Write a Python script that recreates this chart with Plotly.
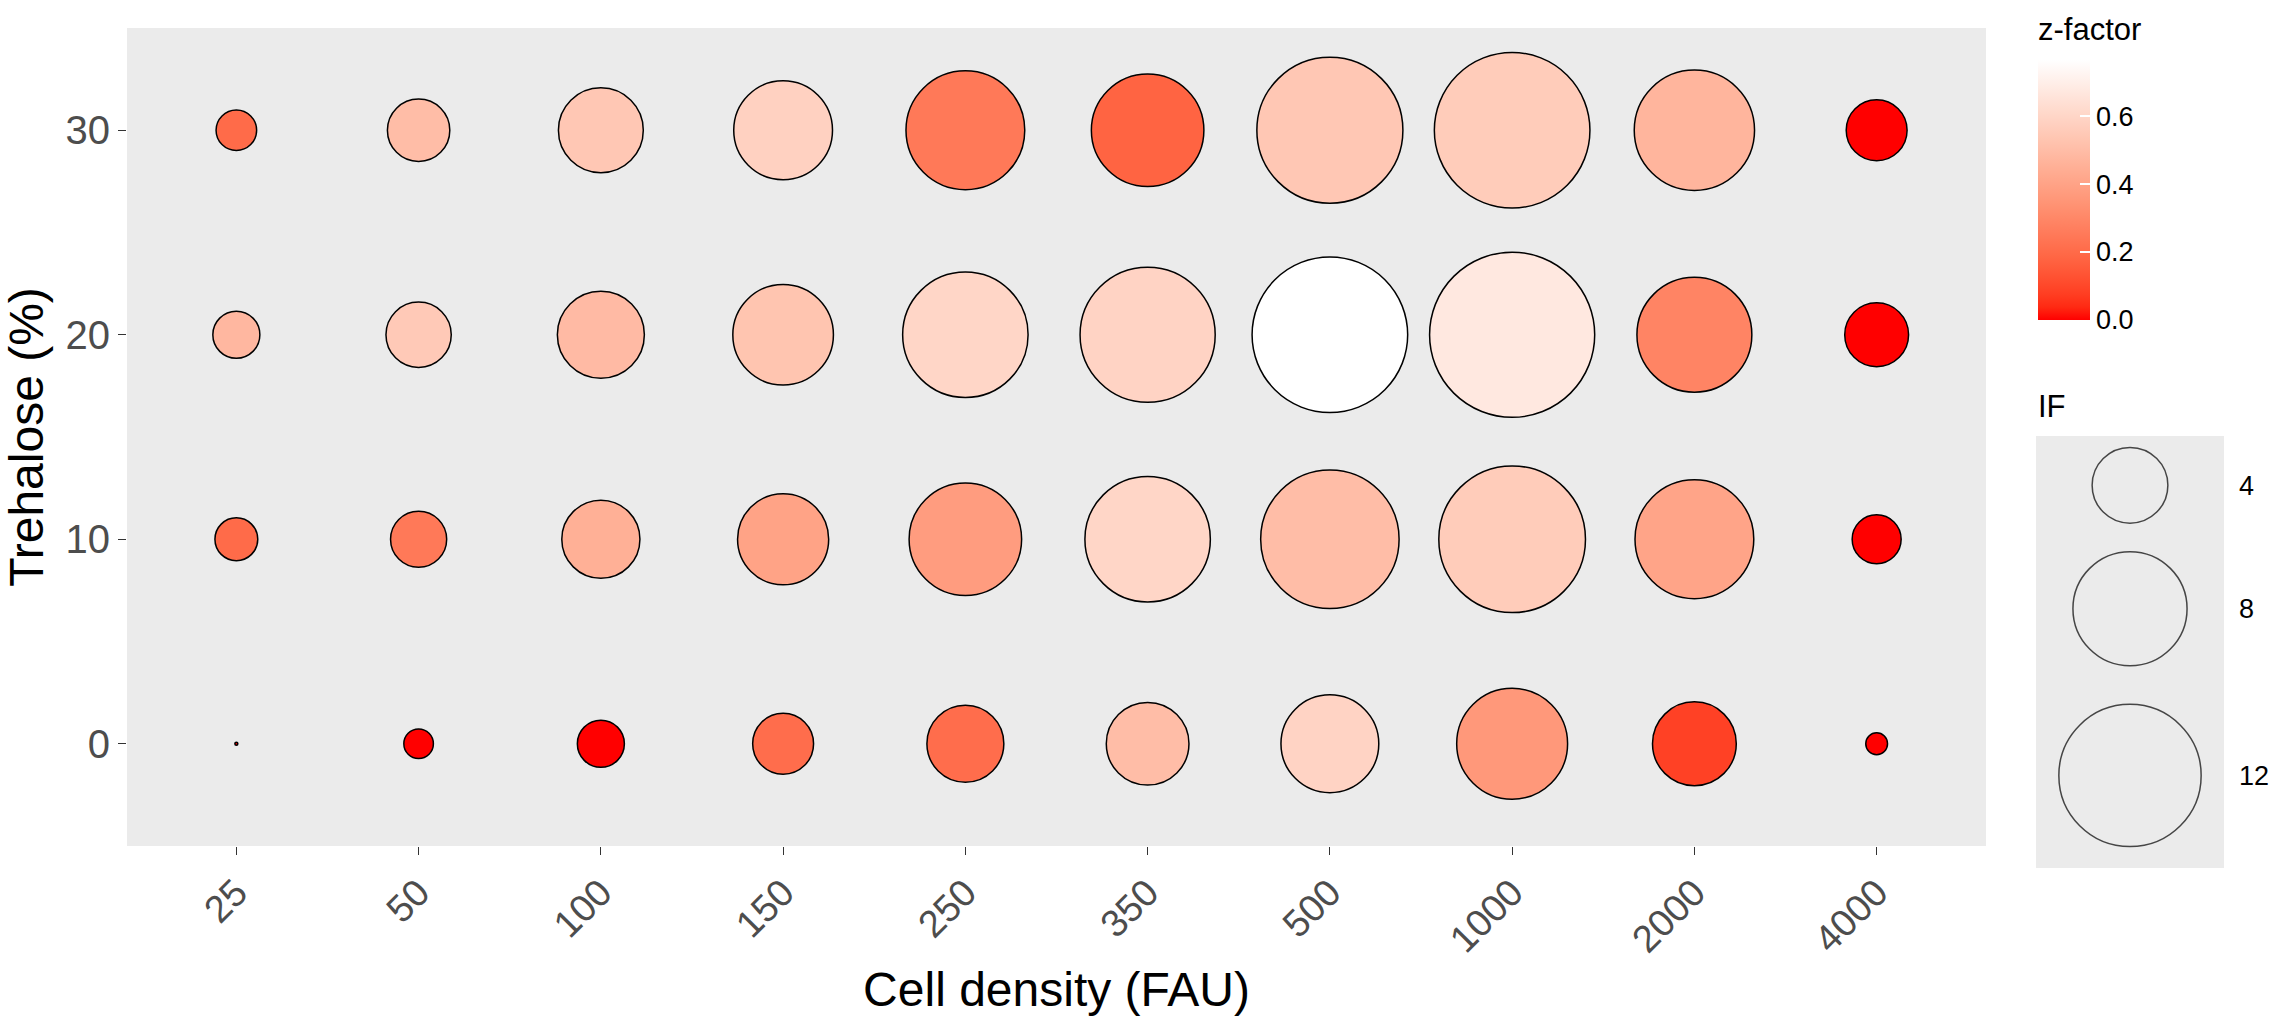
import numpy as np
import plotly.graph_objects as go

#%% data
density = ['25', '50', '100', '150', '250', '350', '500', '1000', '2000', '4000']
trehalose = [0, 10, 20, 30]

# z-factor (fill colour), one list per trehalose level
zf_0 = [0.0, 0.0, 0.0, 0.21, 0.21, 0.50, 0.59, 0.36, 0.085, 0.0]
zf_10 = [0.20, 0.25, 0.45, 0.40, 0.375, 0.60, 0.50, 0.56, 0.405, 0.0]
zf_20 = [0.48, 0.55, 0.49, 0.53, 0.60, 0.59, 0.765, 0.675, 0.29, 0.0]
zf_30 = [0.20, 0.50, 0.54, 0.58, 0.25, 0.18, 0.54, 0.56, 0.47, 0.0]

# IF (bubble size), one list per trehalose level
if_0 = [1.0, 1.4, 2.1, 2.9, 4.1, 4.6, 6.1, 7.6, 4.7, 1.2]
if_10 = [1.9, 2.6, 4.2, 5.4, 7.8, 9.5, 11.4, 12.7, 8.6, 2.2]
if_20 = [2.1, 3.2, 5.0, 6.4, 9.5, 10.9, 14.2, 15.9, 8.1, 3.1]
if_30 = [1.8, 3.0, 4.8, 6.2, 8.6, 7.8, 12.6, 14.2, 8.8, 2.9]

if_keys = [4, 8, 12]
zf_ticks = [0.0, 0.2, 0.4, 0.6]

#%% helpers
FONT = 'Liberation Sans, Arial, sans-serif'
W, H = 2282, 1027
M_L, M_R, M_T, M_B = 127, 20, 28, 100
PW, PH = W - M_L - M_R, H - M_T - M_B


def px_x(x):
    # figure pixel -> paper x
    return (x - M_L) / PW


def px_y(y):
    # figure pixel (from top) -> paper y
    return (H - M_B - y) / PH


def lab_to_hex(L, a, b):
    fy = (L + 16) / 116.0
    fx = fy + a / 500.0
    fz = fy - b / 200.0

    def finv(t):
        return t ** 3 if t ** 3 > 0.008856 else (t - 16 / 116.0) / 7.787
    X, Y, Z = 0.95047 * finv(fx), finv(fy), 1.08883 * finv(fz)
    lin = [3.2406 * X - 1.5372 * Y - 0.4986 * Z,
           -0.9689 * X + 1.8758 * Y + 0.0415 * Z,
           0.0557 * X - 0.2040 * Y + 1.0570 * Z]
    out = []
    for c in lin:
        c = min(max(c, 0.0), 1.0)
        c = 1.055 * c ** (1 / 2.4) - 0.055 if c > 0.0031308 else 12.92 * c
        out.append(int(round(255 * min(max(c, 0.0), 1.0))))
    return '#%02x%02x%02x' % tuple(out)


# red -> white gradient interpolated in Lab (like ggplot's scale_fill_gradient)
lab_lo, lab_hi = (53.24, 80.09, 67.20), (100.0, 0.0, 0.0)
colorscale = []
for t in np.linspace(0, 1, 21):
    lab = [lo + (hi - lo) * t for lo, hi in zip(lab_lo, lab_hi)]
    colorscale.append([float(t), lab_to_hex(*lab)])


def bubble_px(v):
    # area scale: diameter grows with sqrt of IF above the smallest value
    return 3 + 42 * np.sqrt(max(v - 1.0, 0.0))


#%% assemble long-form arrays
xs, ys, zs, ss = [], [], [], []
for t, zrow, irow in zip(trehalose, [zf_0, zf_10, zf_20, zf_30], [if_0, if_10, if_20, if_30]):
    for d, z, v in zip(density, zrow, irow):
        xs.append(d)
        ys.append(t)
        zs.append(z)
        ss.append(bubble_px(v))

fig = go.Figure()
fig.add_trace(go.Scatter(
    x=xs, y=ys, mode='markers', showlegend=False,
    marker=dict(size=ss, color=zs, colorscale=colorscale, cmin=0, cmax=max(max(zf_0), max(zf_10), max(zf_20), max(zf_30)),
                opacity=1, line=dict(color='black', width=1.5),
                colorbar=dict(thickness=52, len=260 / PH, lenmode='fraction',
                              x=px_x(2038), xanchor='left', xpad=0,
                              y=px_y(60), yanchor='top', ypad=0,
                              outlinewidth=0, tickvals=zf_ticks,
                              ticktext=['%.1f' % v for v in zf_ticks],
                              ticks='inside', tickcolor='white', ticklen=10, tickwidth=2,
                              tickfont=dict(family=FONT, size=27, color='black'))),
    xaxis='x', yaxis='y'))

# size legend keys
key_d = [bubble_px(v) for v in if_keys]
key_h = [1.3 * d for d in key_d]
key_c = list(np.cumsum(key_h) - np.array(key_h) / 2)
fig.add_trace(go.Scatter(
    x=[0.5] * len(if_keys), y=key_c, mode='markers', showlegend=False, hoverinfo='skip',
    marker=dict(size=key_d, color='rgba(0,0,0,0)', line=dict(color='black', width=1.5)),
    xaxis='x2', yaxis='y2'))

fig.update_layout(
    width=W, height=H,
    margin=dict(l=M_L, r=M_R, t=M_T, b=M_B),
    paper_bgcolor='white', plot_bgcolor='#EBEBEB',
    font=dict(family=FONT),
    xaxis=dict(domain=[0, px_x(1986)], type='category', categoryorder='array', categoryarray=density,
               range=[-0.6, len(density) - 0.4], showgrid=False, zeroline=False, showline=False,
               ticks='outside', ticklen=8, tickcolor='#333333', tickwidth=1.2, tickangle=-45,
               tickfont=dict(family=FONT, size=38, color='#4D4D4D'),
               title=dict(text='Cell density (FAU)', font=dict(family=FONT, size=48, color='black'), standoff=12),
               anchor='y'),
    yaxis=dict(domain=[px_y(846), 1], range=[-5, 35], tickvals=trehalose, showgrid=False, zeroline=False,
               showline=False, ticks='outside', ticklen=8, tickcolor='#333333', tickwidth=1.2,
               tickfont=dict(family=FONT, size=40, color='#4D4D4D'),
               title=dict(text='Trehalose (%)', font=dict(family=FONT, size=48, color='black'), standoff=14),
               anchor='x'),
    xaxis2=dict(domain=[px_x(2036), px_x(2224)], range=[0, 1], showticklabels=False, showgrid=False,
                zeroline=False, ticks='', anchor='y2', fixedrange=True),
    yaxis2=dict(domain=[px_y(868), px_y(436)], range=[float(sum(key_h)), 0], tickvals=key_c,
                ticktext=[str(v) for v in if_keys], side='right', showgrid=False, zeroline=False,
                ticks='', ticklabelstandoff=14, tickfont=dict(family=FONT, size=27, color='black'),
                anchor='x2', fixedrange=True),
    annotations=[
        dict(text='z-factor', x=px_x(2036), y=px_y(30), xref='paper', yref='paper',
             xanchor='left', yanchor='middle', showarrow=False, font=dict(family=FONT, size=31, color='black')),
        dict(text='IF', x=px_x(2036), y=px_y(407), xref='paper', yref='paper',
             xanchor='left', yanchor='middle', showarrow=False, font=dict(family=FONT, size=31, color='black')),
    ],
)

# drop the default body margin so the figure sits at the page origin
fig.write_html('out.html', config={'displayModeBar': False},
               post_script="document.body.style.margin='0';")
